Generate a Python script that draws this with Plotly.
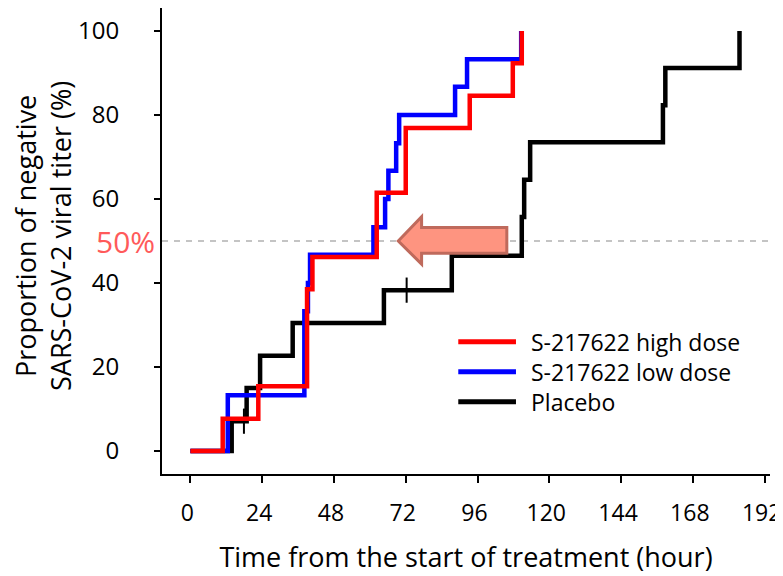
import plotly.graph_objects as go

# ---- data ----
high_t = [0, 10.8, 22.7, 39.0, 40.8, 62.3, 72.0, 93.4, 107.8, 110.8]
high_p = [0, 7.7, 15.4, 38.5, 46.2, 61.5, 76.9, 84.6, 92.3, 100]

low_t = [0, 12.5, 38.1, 39.3, 40.0, 61.2, 65.1, 66.2, 68.8, 69.8, 88.5, 92.5, 110.6]
low_p = [0, 13.3, 33.3, 40.0, 46.7, 53.3, 60.0, 66.7, 73.3, 80.0, 86.7, 93.3, 100]

placebo_t = [0, 13.8, 18.8, 23.3, 34.2, 64.7, 87.4, 110.8, 111.6, 113.6, 158.0, 158.8, 183.6]
placebo_p = [0, 7.1, 15.0, 22.7, 30.5, 38.3, 46.5, 55.7, 64.6, 73.5, 82.3, 91.2, 100]

censor_t = [17.9, 72.3]
censor_p = [7.1, 38.3]

x_ticks = [0, 24, 48, 72, 96, 120, 144, 168, 192]
y_ticks = [0, 20, 40, 60, 80, 100]

series_names = ["S-217622 high dose", "S-217622 low dose", "Placebo"]
series_colors = ["#ff0000", "#0000ff", "#000000"]

FONT = "Open Sans"

fig = go.Figure()

# draw order: placebo, low, high (high on top)
fig.add_trace(go.Scatter(x=placebo_t, y=placebo_p, mode="lines", line_shape="hv",
                         line=dict(color=series_colors[2], width=4.5), name=series_names[2],
                         showlegend=False))
fig.add_trace(go.Scatter(x=censor_t, y=censor_p, mode="markers",
                         marker=dict(symbol="line-ns", size=18,
                                     line=dict(color="#000000", width=2)),
                         showlegend=False))
fig.add_trace(go.Scatter(x=low_t, y=low_p, mode="lines", line_shape="hv",
                         line=dict(color=series_colors[1], width=4.5), name=series_names[1],
                         showlegend=False))
fig.add_trace(go.Scatter(x=high_t, y=high_p, mode="lines", line_shape="hv",
                         line=dict(color=series_colors[0], width=4.5), name=series_names[0],
                         showlegend=False))

# 50% dashed reference line
fig.add_shape(type="line", xref="paper", yref="y", x0=0, x1=1, y0=50, y1=50,
              line=dict(color="#c4c4c4", width=2, dash="6px,6px"), layer="below")

# block arrow pointing left
fig.add_shape(type="path", xref="x", yref="y",
              path="M 69.5,50 L 77.3,55.8 L 77.3,53.2 L 105.8,53.2 L 105.8,47.1 L 77.3,47.1 L 77.3,44.5 Z",
              fillcolor="#fe9480", line=dict(color="#bf6a5c", width=3), layer="above")

# "50%" label
fig.add_annotation(x=0, xref="paper", xanchor="right", xshift=-5, y=50, yref="y",
                   text="50%", showarrow=False,
                   font=dict(family=FONT, size=30, color="#ff5a5a"))

# y-axis title (two lines, rotated)
fig.add_annotation(x=0, xref="paper", y=0.5, yref="paper", xanchor="center",
                   yanchor="middle", xshift=-119, yshift=5, textangle=-90,
                   text="Proportion of negative<br>SARS-CoV-2 viral titer (%)",
                   showarrow=False, font=dict(family=FONT, size=27, color="#000000"))

# manual legend
leg_y = [0.284, 0.2195, 0.155]
for name, col, yy in zip(series_names, series_colors, leg_y):
    fig.add_shape(type="line", xref="paper", yref="paper", x0=0.4873, x1=0.5822,
                  y0=yy, y1=yy, line=dict(color=col, width=5))
    fig.add_annotation(x=0.603, y=yy, xref="paper", yref="paper", xanchor="left",
                       yanchor="middle", text=name, showarrow=False,
                       font=dict(family=FONT, size=23, color="#000000"))

fig.update_layout(
    width=783, height=576,
    margin=dict(l=154, r=21, t=0, b=110),
    plot_bgcolor="white", paper_bgcolor="white",
    font=dict(family=FONT, color="#000000"),
    showlegend=False,
)

fig.update_xaxes(
    range=[-9.5, 193.8], tickvals=x_ticks, ticktext=[str(v) for v in x_ticks],
    showgrid=False, zeroline=False, showline=True, linecolor="#000000", linewidth=2,
    ticks="outside", ticklen=7, tickwidth=2, tickcolor="#000000",
    tickfont=dict(family=FONT, size=23), ticklabelstandoff=10, ticklabelshift=-3,
    title=dict(text="Time from the start of treatment (hour)",
               font=dict(family=FONT, size=27), standoff=22),
)
fig.update_yaxes(
    range=[-5.48, 105.48], tickvals=y_ticks, ticktext=[str(v) for v in y_ticks],
    showgrid=False, zeroline=False, showline=True, linecolor="#000000", linewidth=2,
    ticks="outside", ticklen=6, tickwidth=2, tickcolor="#000000",
    tickfont=dict(family=FONT, size=24), ticklabelstandoff=30,
)

fig.write_html("out.html")
